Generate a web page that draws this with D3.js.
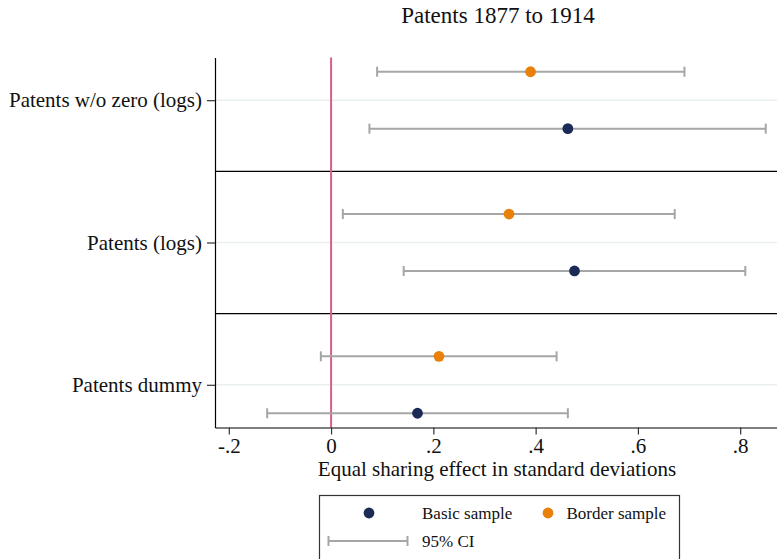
<!DOCTYPE html>
<html>
<head>
<meta charset="utf-8">
<script src="https://cdn.jsdelivr.net/npm/d3@7"></script>
<style>
  html, body { margin: 0; padding: 0; background: #fff; }
  svg { display: block; }
  svg text { font-family: "Liberation Serif", "Times New Roman", serif; }
</style>
</head>
<body>
<svg id="chart" width="777" height="559"></svg>
<script>
// Outcomes (top to bottom) and coefficient estimates with 95% confidence bounds
const outcomes = ["Patents w/o zero (logs)", "Patents (logs)", "Patents dummy"];

const borderEst = [0.390, 0.348, 0.211];
const borderLo  = [0.090, 0.023, -0.020];
const borderHi  = [0.691, 0.672, 0.441];

const basicEst  = [0.463, 0.476, 0.169];
const basicLo   = [0.075, 0.142, -0.125];
const basicHi   = [0.850, 0.810, 0.463];

const xTickValues = [-0.2, 0, 0.2, 0.4, 0.6, 0.8];
const xTickLabels = ["-.2", "0", ".2", ".4", ".6", ".8"];

const seriesNames = ["Basic sample", "Border sample"];
const ciLabel = "95% CI";
const titleText = "Patents 1877 to 1914";
const xTitleText = "Equal sharing effect in standard deviations";

const colors = { basic: "#1c2b55", border: "#e8800a", ci: "#a6a6a6", zero: "#d9607f", grid: "#eaf0f2" };
const serif = "Liberation Serif, Times New Roman, serif";

const svg = d3.select("#chart");
const plot = { left: 215, right: 777, top: 57.5, bottom: 427.5 };

const x = d3.scaleLinear().domain([-0.227, 0.872]).range([plot.left, plot.right]);
// Each outcome block uses slots: border at 10k+1, centre at 10k+3, basic at 10k+5
const y = d3.scaleLinear().domain([0, 26]).range([plot.top, plot.bottom]);

const rows = outcomes.map((name, i) => ({
  name,
  centre: 10 * i + 3,
  border: { pos: 10 * i + 1, est: borderEst[i], lo: borderLo[i], hi: borderHi[i] },
  basic:  { pos: 10 * i + 5, est: basicEst[i],  lo: basicLo[i],  hi: basicHi[i] }
}));

// Title
svg.append("text")
  .attr("x", 498).attr("y", 23)
  .attr("text-anchor", "middle")
  .attr("font-family", serif)
  .attr("font-size", 23)
  .attr("fill", "#111")
  .text(titleText);

// Light grid lines at each outcome
svg.append("g").selectAll("line").data(rows).join("line")
  .attr("x1", plot.left).attr("x2", plot.right)
  .attr("y1", d => y(d.centre)).attr("y2", d => y(d.centre))
  .attr("stroke", colors.grid).attr("stroke-width", 1.5);

// Separators between outcome blocks
svg.append("g").selectAll("line").data([8, 18]).join("line")
  .attr("x1", plot.left).attr("x2", plot.right)
  .attr("y1", d => y(d)).attr("y2", d => y(d))
  .attr("stroke", "#000").attr("stroke-width", 1.2);

// Reference line at zero
svg.append("line")
  .attr("x1", x(0)).attr("x2", x(0))
  .attr("y1", plot.top).attr("y2", plot.bottom)
  .attr("stroke", colors.zero).attr("stroke-width", 2);

// Confidence intervals
function drawCI(g, lo, hi, yy) {
  g.append("line").attr("x1", lo).attr("x2", hi).attr("y1", yy).attr("y2", yy)
    .attr("stroke", colors.ci).attr("stroke-width", 2);
  [lo, hi].forEach(v => g.append("line").attr("x1", v).attr("x2", v)
    .attr("y1", yy - 5).attr("y2", yy + 5)
    .attr("stroke", colors.ci).attr("stroke-width", 2));
}
const ciG = svg.append("g");
rows.forEach(r => {
  drawCI(ciG, x(r.border.lo), x(r.border.hi), y(r.border.pos));
  drawCI(ciG, x(r.basic.lo), x(r.basic.hi), y(r.basic.pos));
});

// Point estimates
const ptG = svg.append("g");
ptG.selectAll("circle.border").data(rows).join("circle")
  .attr("class", "border")
  .attr("cx", d => x(d.border.est)).attr("cy", d => y(d.border.pos))
  .attr("r", 5.4).attr("fill", colors.border);
ptG.selectAll("circle.basic").data(rows).join("circle")
  .attr("class", "basic")
  .attr("cx", d => x(d.basic.est)).attr("cy", d => y(d.basic.pos))
  .attr("r", 5.4).attr("fill", colors.basic);

// X axis
const xAxis = d3.axisBottom(x)
  .tickValues(xTickValues)
  .tickFormat((d, i) => xTickLabels[i])
  .tickSize(7).tickPadding(4).tickSizeOuter(0);
const xg = svg.append("g").attr("transform", `translate(0,${plot.bottom})`).call(xAxis);
xg.select(".domain").attr("stroke", "#000").attr("stroke-width", 1.2);
xg.selectAll(".tick line").attr("stroke", "#333").attr("stroke-width", 1.2);
xg.selectAll(".tick text").attr("font-size", 21).attr("fill", "#111")
  .attr("font-family", serif);

// Y axis
const yAxis = d3.axisLeft(y)
  .tickValues(rows.map(r => r.centre))
  .tickFormat((d, i) => outcomes[i])
  .tickSize(8).tickPadding(5).tickSizeOuter(0);
const yg = svg.append("g").attr("transform", `translate(${plot.left},0)`).call(yAxis);
yg.select(".domain").attr("stroke", "#000").attr("stroke-width", 1.2);
yg.selectAll(".tick line").attr("stroke", "#333").attr("stroke-width", 1.2);
yg.selectAll(".tick text").attr("font-size", 21).attr("fill", "#111")
  .attr("font-family", serif);

// X axis title
svg.append("text")
  .attr("x", 497).attr("y", 476)
  .attr("text-anchor", "middle")
  .attr("font-family", serif)
  .attr("font-size", 21).attr("fill", "#111")
  .text(xTitleText);

// Legend
const lg = svg.append("g").attr("font-family", serif);
lg.append("rect")
  .attr("x", 319.5).attr("y", 495.5).attr("width", 360).attr("height", 80)
  .attr("fill", "#fff").attr("stroke", "#333").attr("stroke-width", 1.2);
lg.append("circle").attr("cx", 369).attr("cy", 513).attr("r", 5.4).attr("fill", colors.basic);
lg.append("text").attr("x", 422).attr("y", 519).attr("font-family", serif)
  .attr("font-size", 17).attr("fill", "#111").text(seriesNames[0]);
lg.append("circle").attr("cx", 548).attr("cy", 513).attr("r", 5.4).attr("fill", colors.border);
lg.append("text").attr("x", 566.5).attr("y", 519).attr("font-family", serif)
  .attr("font-size", 17).attr("fill", "#111").text(seriesNames[1]);
drawCI(lg, 328.5, 407.5, 541);
lg.append("text").attr("x", 422).attr("y", 547).attr("font-family", serif)
  .attr("font-size", 17).attr("fill", "#111").text(ciLabel);
</script>
</body>
</html>
